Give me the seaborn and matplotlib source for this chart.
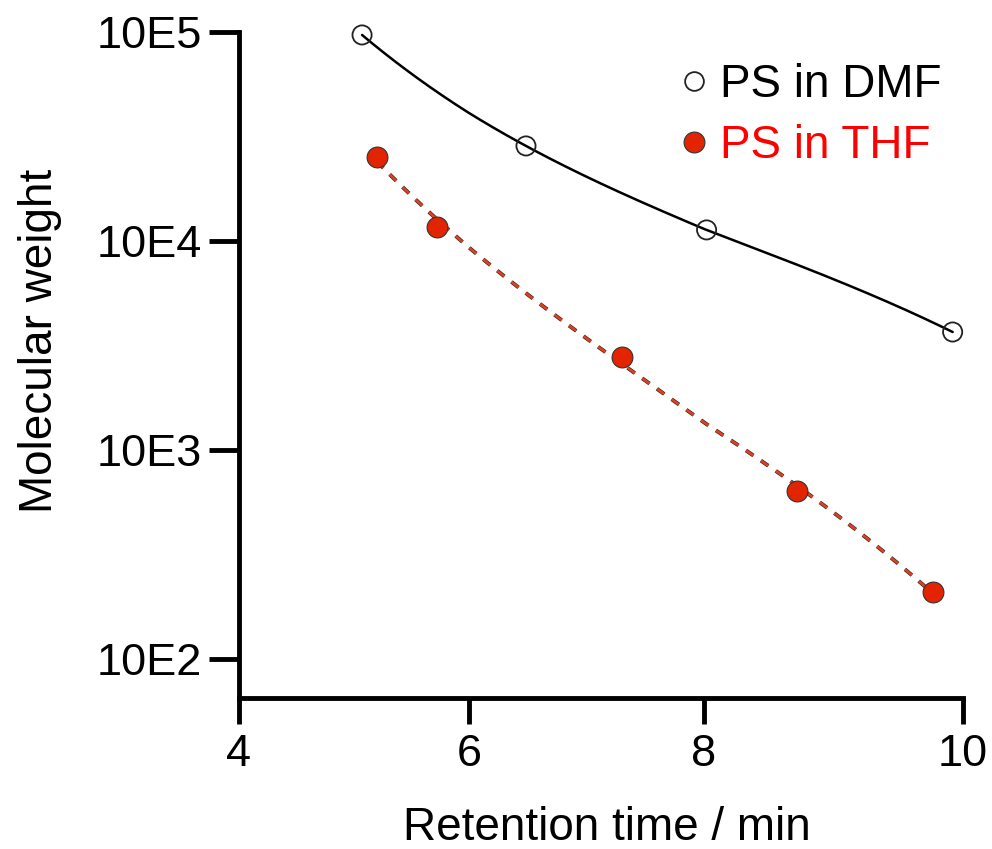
import numpy as np
import pandas as pd
import matplotlib
matplotlib.use("Agg")
import matplotlib.pyplot as plt
import seaborn as sns
from matplotlib.lines import Line2D

# ---------------- data ----------------
rt_dmf = [5.07, 6.485, 8.02, 9.92]
mw_dmf = [96800, 28500, 11300, 3670]
rt_thf = [5.20, 5.72, 7.30, 8.72, 9.77]
mw_thf = [25200, 11670, 2785, 637, 209]
series_labels = ["PS in DMF", "PS in THF"]
x_ticks = [4, 6, 8, 10]
y_ticks = [1e2, 1e3, 1e4, 1e5]
y_tick_labels = ["10E2", "10E3", "10E4", "10E5"]
x_label = "Retention time / min"
y_label = "Molecular weight"

# ---------------- style ----------------
sns.set_theme(style="ticks")
plt.rcParams["font.family"] = ["Liberation Sans", "DejaVu Sans"]
plt.rcParams["lines.scale_dashes"] = False

RED = "#E32400"
FS = 33

# x axis as drawn in the reference (tick spacing is slightly uneven)
X_PX = [0, 230, 465, 724]


def _fwd(v):
    v = np.asarray(v, float)
    xs, ps = x_ticks, X_PX
    out = np.interp(v, xs, ps)
    lo = ps[0] + (v - xs[0]) * (ps[1] - ps[0]) / (xs[1] - xs[0])
    hi = ps[-1] + (v - xs[-1]) * (ps[-1] - ps[-2]) / (xs[-1] - xs[-2])
    return np.where(v < xs[0], lo, np.where(v > xs[-1], hi, out))


def _inv(p):
    p = np.asarray(p, float)
    xs, ps = x_ticks, X_PX
    out = np.interp(p, ps, xs)
    lo = xs[0] + (p - ps[0]) * (xs[1] - xs[0]) / (ps[1] - ps[0])
    hi = xs[-1] + (p - ps[-1]) * (xs[-1] - xs[-2]) / (ps[-1] - ps[-2])
    return np.where(p < ps[0], lo, np.where(p > ps[-1], hi, out))


fig = plt.figure(figsize=(9.92, 8.49), dpi=100)
ax = fig.add_axes([239 / 992, 1 - 698 / 849, 724 / 992, 666 / 849])
ax.set_xscale("function", functions=(_fwd, _inv))
ax.set_yscale("log")

# ---------------- fitted curves ----------------
xd = np.linspace(min(rt_dmf), max(rt_dmf), 300)
yd = 10 ** np.polyval(np.polyfit(rt_dmf, np.log10(mw_dmf), 3), xd)
xt = np.linspace(min(rt_thf), max(rt_thf), 300)
yt = 10 ** np.polyval(np.polyfit(rt_thf, np.log10(mw_thf), 3), xt)

sns.lineplot(x=xd, y=yd, color="black", lw=1.8, ax=ax, zorder=2)
l1, = ax.plot(xt, yt, color="#2a2a2a", lw=2.8, zorder=2)
l1.set_dashes((6.5, 6.5))
l2, = ax.plot(xt, yt, color="#E0401F", lw=1.9, zorder=2.1)
l2.set_dashes((6.5, 6.5))

# ---------------- points ----------------
sns.scatterplot(x=rt_dmf, y=mw_dmf, marker="o", s=190, facecolor="none",
                edgecolor="#222222", linewidth=1.3, ax=ax, zorder=3,
                clip_on=False)
sns.scatterplot(x=rt_thf, y=mw_thf, marker="o", s=225, color=RED,
                edgecolor="#333333", linewidth=0.8, ax=ax, zorder=3,
                clip_on=False)

# ---------------- axes ----------------
ax.set_xlim(4, 10)
ax.set_ylim(65.1, 1e5)
ax.set_xticks(x_ticks)
ax.set_xticklabels([str(t) for t in x_ticks])
ax.set_yticks(y_ticks)
ax.set_yticklabels(y_tick_labels)
ax.minorticks_off()
ax.yaxis.set_minor_locator(matplotlib.ticker.NullLocator())

for s in ["top", "right"]:
    ax.spines[s].set_visible(False)
for s in ["left", "bottom"]:
    ax.spines[s].set_linewidth(3.5)
    ax.spines[s].set_color("black")
    ax.spines[s].set_capstyle("projecting")

ax.tick_params(axis="y", which="major", length=21.6, width=3.5, color="black",
               labelsize=32.5, pad=5, labelcolor="black")
ax.tick_params(axis="x", which="major", length=18.7, width=3.5, color="black",
               labelsize=32.5, pad=7, labelcolor="black")

ax.set_xlabel(x_label, fontsize=FS, color="black", va="baseline")
ax.xaxis.set_label_coords(607 / 992, 1 - 840 / 849, transform=fig.transFigure)
ax.set_ylabel(y_label, fontsize=FS, color="black", va="baseline")
ax.yaxis.set_label_coords(52 / 992, 1 - 341 / 849, transform=fig.transFigure)

# ---------------- legend ----------------
handles = [
    Line2D([], [], ls="none", marker="o", markersize=13.5, markerfacecolor="none",
           markeredgecolor="#222222", markeredgewidth=1.3),
    Line2D([], [], ls="none", marker="o", markersize=15, markerfacecolor=RED,
           markeredgecolor="#333333", markeredgewidth=0.8),
]
leg = ax.legend(handles, series_labels, loc="upper left",
                bbox_to_anchor=(685 / 992, 1 - 63 / 849),
                bbox_transform=fig.transFigure, frameon=False, fontsize=FS,
                handlelength=0.4, handletextpad=0.37, labelspacing=0.37,
                borderpad=0, borderaxespad=0)
leg.get_texts()[0].set_color("black")
leg.get_texts()[1].set_color("#FF0000")

fig.savefig("out.png", dpi=100, facecolor="white")
